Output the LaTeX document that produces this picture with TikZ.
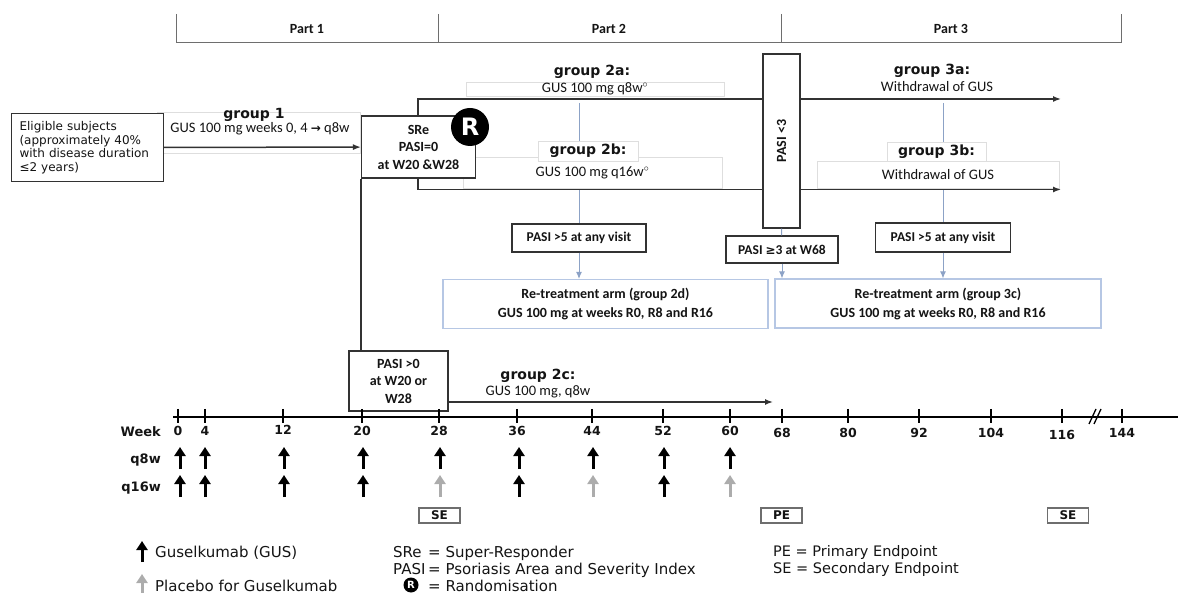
\documentclass[tikz,border=0pt]{standalone}
\usepackage{fontspec}
\setmainfont{Carlito}
\newfontfamily\axisfont{DejaVu Sans}
\usetikzlibrary{positioning,arrows.meta}
\definecolor{colortext}  {RGB}{20 ,20 ,20 }
\definecolor{colorline}  {RGB}{50 ,50 ,50 }
\definecolor{colorhead}  {RGB}{110,110,110}
\definecolor{colorblue}  {RGB}{140,162,198}
\definecolor{colorarm}   {RGB}{182,199,228}
\definecolor{colorfaint} {RGB}{222,222,222}
\definecolor{colorplac}  {RGB}{172,172,172}

\begin{document}
\begin{tikzpicture}[
    x=1pt, y=-1pt,
    font={\fontsize{14.5}{16}\selectfont},
    base/.style={text=colortext,inner sep=0pt,align=center,rectangle},
    txt/.style={base,font={\fontsize{14.5}{16}\selectfont}},
    grp/.style={base,font={\axisfont\bfseries\fontsize{14}{16}\selectfont}},
    part/.style={base,font={\fontsize{14}{15}\selectfont\bfseries}},
    box/.style={base,draw=colorline,line width=1.1pt,fill=white,font={\fontsize{14}{17.5}\selectfont\bfseries}},
    armbox/.style={base,draw=colorarm,line width=1.1pt,fill=white,font={\fontsize{14}{19}\selectfont\bfseries},minimum width=326pt,minimum height=49pt},
    faint/.style={base,draw=colorfaint,line width=0.8pt,fill=white},
    hdr/.style={draw=colorhead,line width=1pt},
    link/.style={draw=colorline,line width=1.5pt},
    flow/.style={link,-{Latex[length=8pt,width=6pt]}},
    bline/.style={draw=colorblue,line width=1pt},
    bflow/.style={bline,-{Latex[length=7pt,width=6pt]}},
    axis/.style={draw=black,line width=2.8pt},
    tck/.style={draw=black,line width=1.1pt},
    wk/.style={base,font={\axisfont\bfseries\fontsize{12.5}{14}\selectfont}},
    row/.style={base,anchor=east,font={\axisfont\bfseries\fontsize{13}{14}\selectfont}},
    gus/.style={draw=black,line width=3pt,-{Triangle[length=9pt,width=11pt]}},
    plac/.style={gus,draw=colorplac},
    endpt/.style={base,draw=colorhead,line width=1.1pt,minimum width=41pt,minimum height=15pt,font={\axisfont\bfseries\fontsize{12}{13}\selectfont}},
    legend/.style={base,anchor=west,align=left,font={\axisfont\fontsize{15}{16}\selectfont}},
    rnd/.style={circle,fill=black,text=white,inner sep=0pt},
]

    \useasboundingbox (0,0) rectangle (1178,593);

    % Parts
    \coordinate (p0) at (176,14);
    \coordinate (p1) at (438,14);
    \coordinate (p2) at (781,14);
    \coordinate (p3) at (1121,14);
    \draw[hdr] (p0) -- (p0 |- 0,43) -- (p3 |- 0,43) -- (p3);
    \draw[hdr] (p1) -- (p1 |- 0,43);
    \draw[hdr] (p2) -- (p2 |- 0,43);
    \node[part] (part1) at (307,29) {Part 1};
    \node[part] (part2) at (609,29) {Part 2};
    \node[part] (part3) at (951,29) {Part 3};

    % Group 1
    \node[faint,minimum width=203pt,minimum height=41pt] (grp1box) at (258.5,132.5) {};
    \node[box,align=left,anchor=north west,text width=136pt,inner xsep=8pt,minimum height=68pt,font={\axisfont\fontsize{12}{13.7}\selectfont}] (elig) at (11,113)
        {Eligible subjects\\(approximately 40\%\\with disease duration\\≤2 years)};
    \node[grp] (grp1) at (254,115) {group 1};
    \node[txt] (txt1) at (260,129) {GUS 100 mg weeks 0, 4 {\axisfont\bfseries\fontsize{12}{14}\selectfont →} q8w};

    % Criteria boxes
    \node[box,minimum width=134pt,minimum height=28pt,font={\fontsize{13.5}{16}\selectfont\bfseries}] (pasi5a)  at (579,238)   {PASI >5 at any visit};
    \node[box,minimum width=135pt,minimum height=29pt,font={\fontsize{13.5}{16}\selectfont\bfseries}] (pasi5b)  at (943,237.5) {PASI >5 at any visit};
    \node[box,minimum width=112pt,minimum height=27pt,font={\fontsize{13.5}{16}\selectfont\bfseries}] (pasiw68) at (782,249.5) {PASI {\axisfont\fontsize{12}{14}\selectfont ≥}3 at W68};

    % Blue lines
    \coordinate (b2a) at (579,103);
    \coordinate (b3a) at (943,103);
    \draw[bline] (b2a) -- (b2a |- pasi5a.north);
    \draw[bline] (b3a) -- (b3a |- pasi5b.north);

    % Group 2a, 2b, 3a, 3b
    \node[grp] (grp2a) at (592,72) {group 2a:};
    \node[faint,txt,minimum width=258pt,minimum height=14pt] (txt2a) at (595,89) {GUS 100 mg q8w$^{\circ}$};
    \node[faint,txt,minimum width=259pt,minimum height=31pt] (txt2b) at (592.5,173) {GUS 100 mg q16w$^{\circ}$};
    \node[faint,grp,minimum width=100pt,minimum height=20pt] (grp2b) at (588,151) {group 2b:};
    \node[grp] (grp3a) at (932,71) {group 3a:};
    \node[txt] (txt3a) at (937,87) {Withdrawal of GUS};
    \node[faint,txt,minimum width=242pt,minimum height=27pt] (txt3b) at (938,174.5) {Withdrawal of GUS};
    \node[faint,grp,minimum width=99pt,minimum height=19pt] (grp3b) at (936.5,152) {group 3b:};

    % Arrows of the randomised arms
    \coordinate (b2top) at (418,99);
    \coordinate (b2bot) at (418,189.5);
    \coordinate (e3a)   at (1061,99);
    \coordinate (e3b)   at (1061,189.5);
    \draw[link,{Latex[length=8pt,width=6pt]}-{Latex[length=8pt,width=6pt]}] (e3a) -- (b2top) -- (b2bot) -- (e3b);

    % Super responders
    \node[box,minimum width=114pt,minimum height=62pt] (sre) at (418.5,147) {SRe\\PASI=0\\at W20 \&W28};
    \node[rnd,minimum size=38pt,font={\axisfont\bfseries\fontsize{24}{24}\selectfont}] (rnd) at (470,127) {R};
    \draw[flow] (elig) -- (sre);

    % PASI <3 at W68
    \node[box,rotate=90,minimum width=174pt,minimum height=37pt] (pasi3a) at (781.5,141) {PASI <3};

    % Re-treatment arms
    \node[armbox,minimum width=325pt] (arm2) at (605.5,304) {Re-treatment arm (group 2d)\\GUS 100 mg at weeks R0, R8 and R16};
    \node[armbox] (arm3) at (938,303.5) {Re-treatment arm (group 3c)\\GUS 100 mg at weeks R0, R8 and R16};
    \draw[bflow] (pasi5a.south) -- (pasi5a.south |- arm2.north);
    \draw[bflow] (pasi5b.south) -- (pasi5b.south |- arm3.north);
    \draw[bline] (pasi3a.west) -- (pasiw68);
    \draw[bflow] (pasiw68.south) -- (pasiw68.south |- arm3.north);

    % Group 2c
    \node[box,minimum width=99pt,minimum height=60pt] (pasi0) at (398.5,381) {PASI >0\\at W20 or\\W28};
    \draw[link] (sre.south west) -- (sre.south west |- pasi0.north);
    \coordinate (e2c) at (773,402);
    \draw[flow] (pasi0.east |- e2c) -- (e2c);
    \node[grp] (grp2c) at (538,376) {group 2c:};
    \node[txt] (txt2c) at (538,392) {GUS 100 mg, q8w};

    % Time axis
    \coordinate (ax0) at (173,417);
    \coordinate (ax1) at (1178,417);
    \draw[axis] (ax0) -- (ax1);
    \draw[tck] (178,409)  -- (178,423);  \node[wk] (w0)   at (178,431)  {0};
    \draw[tck] (205,409)  -- (205,423);  \node[wk] (w4)   at (205,431)  {4};
    \draw[tck] (283,409)  -- (283,423);  \node[wk] (w12)  at (283,430)  {12};
    \draw[tck] (362,409)  -- (362,423);  \node[wk] (w20)  at (362,431)  {20};
    \draw[tck] (439,409)  -- (439,423);  \node[wk] (w28)  at (439,431)  {28};
    \draw[tck] (517,409)  -- (517,423);  \node[wk] (w36)  at (517,431)  {36};
    \draw[tck] (592,409)  -- (592,423);  \node[wk] (w44)  at (592,431)  {44};
    \draw[tck] (663,409)  -- (663,423);  \node[wk] (w52)  at (663,431)  {52};
    \draw[tck] (730,409)  -- (730,423);  \node[wk] (w60)  at (730,431)  {60};
    \draw[tck] (782,409)  -- (782,423);  \node[wk] (w68)  at (782,433)  {68};
    \draw[tck] (848,409)  -- (848,423);  \node[wk] (w80)  at (848,433)  {80};
    \draw[tck] (919,409)  -- (919,423);  \node[wk] (w92)  at (919,433)  {92};
    \draw[tck] (991,409)  -- (991,423);  \node[wk] (w104) at (991,433)  {104};
    \draw[tck] (1062,409) -- (1062,423); \node[wk] (w116) at (1062,435) {116};
    \draw[tck] (1122,409) -- (1122,423); \node[wk] (w144) at (1122,433) {144};
    \draw[tck,line width=1.3pt] (1089,424) -- (1096,409);
    \draw[tck,line width=1.3pt] (1094,424) -- (1101,409);

    % Dosing rows
    \node[row] (week) at (161,432) {Week};
    \node[row] (q8w)  at (161,460) {q8w};
    \node[row] (q16w) at (161,488) {q16w};
    \draw[gus]  (180,469) -- (180,447);
    \draw[gus]  (205,469) -- (205,447);
    \draw[gus]  (284,469) -- (284,447);
    \draw[gus]  (363,469) -- (363,447);
    \draw[gus]  (440,469) -- (440,447);
    \draw[gus]  (519,469) -- (519,447);
    \draw[gus]  (593,469) -- (593,447);
    \draw[gus]  (664,469) -- (664,447);
    \draw[gus]  (730,469) -- (730,447);
    \draw[gus]  (180,497) -- (180,475);
    \draw[gus]  (205,497) -- (205,475);
    \draw[gus]  (284,497) -- (284,475);
    \draw[gus]  (363,497) -- (363,475);
    \draw[plac] (440,497) -- (440,475);
    \draw[gus]  (519,497) -- (519,475);
    \draw[plac] (593,497) -- (593,475);
    \draw[gus]  (664,497) -- (664,475);
    \draw[plac] (730,497) -- (730,475);

    % Endpoints
    \node[endpt] (se1) at (439.5,515.5) {SE};
    \node[endpt] (pe)  at (781.5,515.5) {PE};
    \node[endpt] (se2) at (1068,515.5)  {SE};

    % Legend
    \draw[gus]  (142,562) -- (142,541);
    \node[legend] (lgus)  at (155,553) {Guselkumab (GUS)};
    \draw[plac] (142,602) -- (142,574);
    \node[legend] (lplac) at (155,586) {Placebo for Guselkumab};
    \node[legend] (lsre)  at (393,553) {\makebox[35pt][l]{SRe}= Super-Responder};
    \node[legend] (lpasi) at (393,570) {\makebox[35pt][l]{PASI}= Psoriasis Area and Severity Index};
    \node[rnd,minimum size=15pt,font={\axisfont\bfseries\fontsize{10}{10}\selectfont}] (lrnd) at (411,585) {R};
    \node[legend] (lrtxt) at (428,586) {= Randomisation};
    \node[legend,font={\axisfont\fontsize{14.5}{16}\selectfont}] (lpe) at (773,552) {PE = Primary Endpoint};
    \node[legend,font={\axisfont\fontsize{14.5}{16}\selectfont}] (lse) at (773,569) {SE = Secondary Endpoint};

\end{tikzpicture}
\end{document}
